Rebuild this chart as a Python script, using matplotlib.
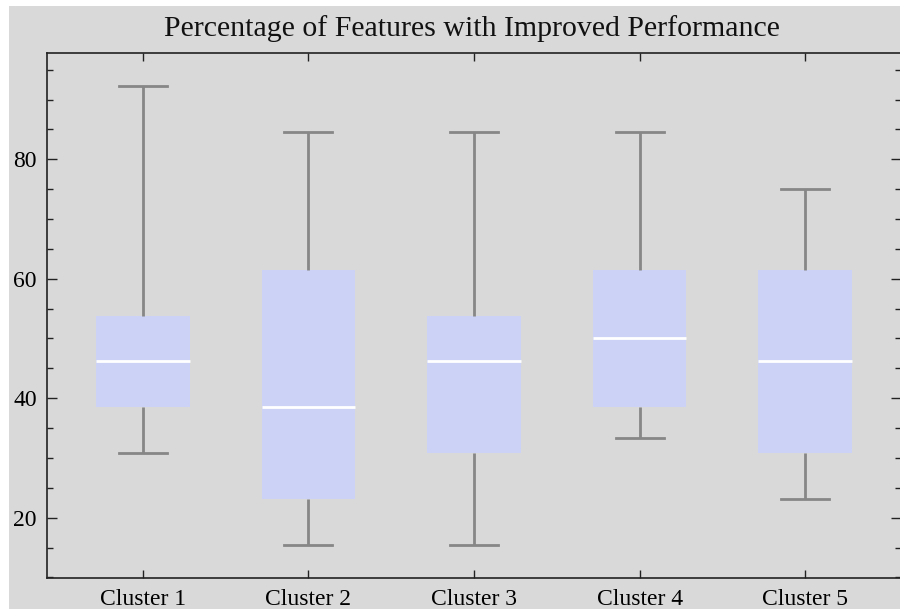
import matplotlib
matplotlib.use("Agg")
import matplotlib.pyplot as plt
from matplotlib.patches import Rectangle
from matplotlib.ticker import MultipleLocator

categories = ["Cluster 1", "Cluster 2", "Cluster 3", "Cluster 4", "Cluster 5"]
whislo = [30.8, 15.4, 15.4, 33.3, 23.1]
q1 = [38.5, 23.1, 30.8, 38.5, 30.8]
med = [46.2, 38.5, 46.2, 50.0, 46.2]
q3 = [53.8, 61.5, 53.8, 61.5, 61.5]
whishi = [92.3, 84.6, 84.6, 84.6, 75.0]
title = "Percentage of Features with Improved Performance"

plt.rcParams['font.family'] = ['Liberation Serif', 'DejaVu Serif']

fig = plt.figure(figsize=(9, 6.09), dpi=100)
fig.patch.set_facecolor('white')
fig.patches.append(Rectangle((9/900, 0), 1, 1 - 6/609, transform=fig.transFigure,
                             facecolor='#d9d9d9', edgecolor='none', zorder=-10))

ax = fig.add_axes([46.7/900, 1 - 578/609, (900.5 - 46.7)/900, (578 - 53)/609])
ax.set_facecolor('#d9d9d9')

stats = []
for i, c in enumerate(categories):
    stats.append(dict(label=c, whislo=whislo[i], q1=q1[i], med=med[i],
                      q3=q3[i], whishi=whishi[i], fliers=[]))

positions = list(range(1, len(categories) + 1))
ax.bxp(stats, positions=positions, widths=0.565, patch_artist=True,
       showfliers=False,
       boxprops=dict(facecolor='#cbd2f5', edgecolor='none', linewidth=0),
       medianprops=dict(color='white', linewidth=2),
       whiskerprops=dict(color='#878787', linewidth=2, solid_capstyle='butt'),
       capprops=dict(color='#878787', linewidth=2),
       capwidths=0.29)

ax.set_xlim(0.42, 5.575)
ax.set_ylim(9.9, 97.8)
ax.yaxis.set_major_locator(MultipleLocator(20))
ax.yaxis.set_minor_locator(MultipleLocator(5))
ax.set_xticks(positions)
ax.set_xticklabels(categories)
ax.tick_params(axis='both', which='both', direction='in', top=True, right=True,
               labelsize=17, color='#222222', width=1)
ax.tick_params(axis='y', which='major', length=7.5, pad=7)
ax.tick_params(axis='y', which='minor', length=4)
ax.tick_params(axis='x', which='major', length=6, pad=8)
for s in ax.spines.values():
    s.set_color('#222222')
    s.set_linewidth(1.2)
ax.spines['right'].set_visible(False)

fig.text(471.5/900, 1 - 36/609, title, ha='center', va='baseline', fontsize=21.5, color='#111111')

fig.savefig('out.png', dpi=100)
